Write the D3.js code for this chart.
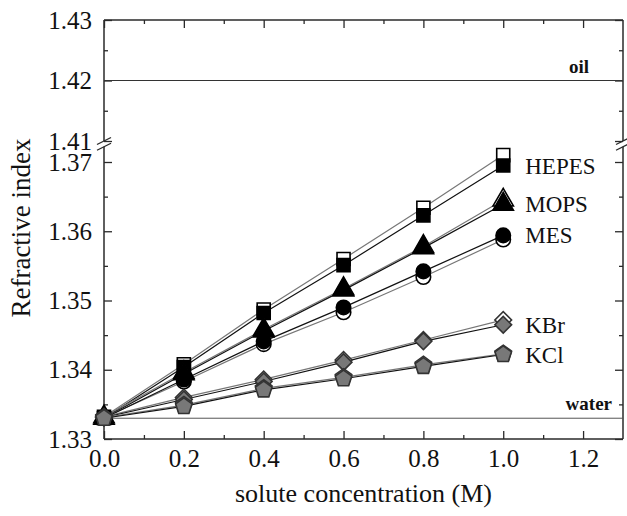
<!DOCTYPE html>
<html>
<head>
<meta charset="utf-8">
<script src="https://cdn.jsdelivr.net/npm/d3@7/dist/d3.min.js"></script>
<style>
  body { margin: 0; background: #fff; }
  svg text { font-family: "Liberation Serif", "Times New Roman", serif; fill: #111; }
</style>
</head>
<body>
<div id="chart"></div>
<script>
// concentrations (M)
var conc = [0, 0.2, 0.4, 0.6, 0.8, 1.0];

// refractive index, open and filled symbols for each solute
var hepesOpen   = [1.3332, 1.3408, 1.3487, 1.3560, 1.3634, 1.3710];
var hepesFilled = [1.3330, 1.3404, 1.3482, 1.3551, 1.3623, 1.3695];
var mopsOpen    = [1.3332, 1.3396, 1.3458, 1.3517, 1.3578, 1.3645];
var mopsFilled  = [1.3330, 1.3394, 1.3456, 1.3515, 1.3576, 1.3639];
var mesOpen     = [1.3331, 1.3383, 1.3437, 1.3483, 1.3534, 1.3588];
var mesFilled   = [1.3330, 1.3386, 1.3441, 1.3490, 1.3542, 1.3594];
var kbrOpen     = [1.3332, 1.3360, 1.3386, 1.3414, 1.3443, 1.3472];
var kbrFilled   = [1.3331, 1.3357, 1.3383, 1.3411, 1.3441, 1.3465];
var kclOpen     = [1.3331, 1.3349, 1.3373, 1.3389, 1.3407, 1.3423];
var kclFilled   = [1.3330, 1.3347, 1.3371, 1.3387, 1.3405, 1.3422];

var solutes = ['HEPES', 'MOPS', 'MES', 'KBr', 'KCl'];

// reference lines
var oilIndex = 1.42;
var waterIndex = 1.333;

// ticks
var xTicks = [0, 0.2, 0.4, 0.6, 0.8, 1.0, 1.2];
var xMinor = [0.1, 0.3, 0.5, 0.7, 0.9, 1.1];
var yTicksHigh = [1.41, 1.42, 1.43];
var yMinorHigh = [1.415, 1.425];
var yTicksLow = [1.33, 1.34, 1.35, 1.36, 1.37];
var yMinorLow = [1.335, 1.345, 1.355, 1.365];

(function() {
  var width = 627, height = 516;
  var margin = {top: 20, right: 4, bottom: 77, left: 104};

  var svg = d3.select('#chart').append('svg')
    .attr('width', width)
    .attr('height', height);

  var x = d3.scaleLinear().domain([0, 1.3]).range([margin.left, width - margin.right]);
  // broken y axis: two linear pieces
  var yHigh = d3.scaleLinear().domain([1.41, 1.43]).range([141, margin.top]);
  var yLow = d3.scaleLinear().domain([1.33, 1.37]).range([height - margin.bottom, 162]);
  var lowTop = 1.3722;

  var x0 = x.range()[0], x1 = x.range()[1];
  var yb = yLow(1.33), yt = yHigh(1.43);

  var axisColor = '#2a2a2a';

  // frame
  var frame = svg.append('g').attr('stroke', axisColor).attr('stroke-width', 1.5).attr('fill', 'none');
  frame.append('line').attr('x1', x0).attr('x2', x1).attr('y1', yb).attr('y2', yb);
  frame.append('line').attr('x1', x0).attr('x2', x1).attr('y1', yt).attr('y2', yt);
  [x0, x1].forEach(function(xx) {
    frame.append('line').attr('x1', xx).attr('x2', xx).attr('y1', yt).attr('y2', yHigh(1.41));
    frame.append('line').attr('x1', xx).attr('x2', xx).attr('y1', yLow(lowTop)).attr('y2', yb);
    // break marks
    [yHigh(1.41), yLow(lowTop)].forEach(function(yy) {
      frame.append('line')
        .attr('x1', xx - 7).attr('y1', yy + 3.5)
        .attr('x2', xx + 7).attr('y2', yy - 3.5)
        .attr('stroke-width', 1.3);
    });
  });

  function styleAxis(g) {
    g.select('.domain').remove();
    g.selectAll('line').attr('stroke', axisColor).attr('stroke-width', 1.3);
    g.selectAll('text').attr('font-size', 25).attr('fill', '#111')
      .style('font-family', '"Liberation Serif", "Times New Roman", serif');
  }

  // bottom / top
  svg.append('g').attr('transform', 'translate(0,' + yb + ')')
    .call(d3.axisBottom(x).tickValues(xTicks).tickFormat(d3.format('.1f')).tickSize(-8).tickPadding(10))
    .call(styleAxis);
  svg.append('g').attr('transform', 'translate(0,' + yb + ')')
    .call(d3.axisBottom(x).tickValues(xMinor).tickFormat('').tickSize(-4))
    .call(styleAxis);
  svg.append('g').attr('transform', 'translate(0,' + yt + ')')
    .call(d3.axisTop(x).tickValues(xTicks).tickFormat('').tickSize(-8))
    .call(styleAxis);
  svg.append('g').attr('transform', 'translate(0,' + yt + ')')
    .call(d3.axisTop(x).tickValues(xMinor).tickFormat('').tickSize(-4))
    .call(styleAxis);

  // left / right, both pieces
  [[yHigh, yTicksHigh, yMinorHigh], [yLow, yTicksLow, yMinorLow]].forEach(function(p) {
    svg.append('g').attr('transform', 'translate(' + x0 + ',0)')
      .call(d3.axisLeft(p[0]).tickValues(p[1]).tickFormat(d3.format('.2f')).tickSize(-8).tickPadding(12))
      .call(styleAxis);
    svg.append('g').attr('transform', 'translate(' + x0 + ',0)')
      .call(d3.axisLeft(p[0]).tickValues(p[2]).tickFormat('').tickSize(-4))
      .call(styleAxis);
    svg.append('g').attr('transform', 'translate(' + x1 + ',0)')
      .call(d3.axisRight(p[0]).tickValues(p[1]).tickFormat('').tickSize(-8))
      .call(styleAxis);
    svg.append('g').attr('transform', 'translate(' + x1 + ',0)')
      .call(d3.axisRight(p[0]).tickValues(p[2]).tickFormat('').tickSize(-4))
      .call(styleAxis);
  });

  // oil and water lines
  svg.append('line').attr('x1', x0).attr('x2', x1)
    .attr('y1', yHigh(oilIndex)).attr('y2', yHigh(oilIndex))
    .attr('stroke', '#333').attr('stroke-width', 1);
  svg.append('line').attr('x1', x0).attr('x2', x1)
    .attr('y1', yLow(waterIndex)).attr('y2', yLow(waterIndex))
    .attr('stroke', '#555').attr('stroke-width', 1);
  svg.append('text').attr('x', x(1.19)).attr('y', yHigh(oilIndex) - 8)
    .attr('text-anchor', 'middle').attr('font-size', 19).attr('font-weight', 'bold').text('oil');
  svg.append('text').attr('x', x1 - 11).attr('y', yLow(waterIndex) - 8)
    .attr('text-anchor', 'end').attr('font-size', 19).attr('font-weight', 'bold').text('water');

  // custom pentagon symbol
  var symbolPentagon = {
    draw: function(context, size) {
      var r = Math.sqrt(size / 2.378);
      for (var i = 0; i < 5; i++) {
        var a = -Math.PI / 2 + i * 2 * Math.PI / 5;
        if (i === 0) context.moveTo(r * Math.cos(a), r * Math.sin(a));
        else context.lineTo(r * Math.cos(a), r * Math.sin(a));
      }
      context.closePath();
    }
  };

  var series = [
    {name: 'HEPES', vals: hepesOpen,   filled: false, sym: d3.symbolSquare, size: 170, rot: 0},
    {name: 'HEPES', vals: hepesFilled, filled: true,  sym: d3.symbolSquare, size: 170, rot: 0},
    {name: 'MOPS',  vals: mopsOpen,    filled: false, sym: d3.symbolTriangle, size: 180, rot: 0},
    {name: 'MOPS',  vals: mopsFilled,  filled: true,  sym: d3.symbolTriangle, size: 180, rot: 0},
    {name: 'MES',   vals: mesOpen,     filled: false, sym: d3.symbolCircle, size: 165, rot: 0},
    {name: 'MES',   vals: mesFilled,   filled: true,  sym: d3.symbolCircle, size: 165, rot: 0},
    {name: 'KBr',   vals: kbrOpen,     filled: false, sym: d3.symbolSquare, size: 140, rot: 45, gray: true},
    {name: 'KBr',   vals: kbrFilled,   filled: true,  sym: d3.symbolSquare, size: 140, rot: 45, gray: true},
    {name: 'KCl',   vals: kclOpen,     filled: false, sym: symbolPentagon, size: 180, rot: 0, gray: true},
    {name: 'KCl',   vals: kclFilled,   filled: true,  sym: symbolPentagon, size: 180, rot: 0, gray: true}
  ];

  var line = d3.line()
    .x(function(d, i) { return x(conc[i]); })
    .y(function(d) { return yLow(d); });

  // lines first
  series.forEach(function(s) {
    svg.append('path')
      .attr('d', line(s.vals))
      .attr('fill', 'none')
      .attr('stroke', s.filled ? '#111' : '#777')
      .attr('stroke-width', 1.2);
  });

  // markers: open first, filled on top
  series.forEach(function(s) {
    var fill = s.filled ? (s.gray ? '#787878' : '#000') : '#fff';
    var stroke = s.gray ? '#333' : '#000';
    svg.append('g').selectAll('path')
      .data(s.vals)
      .enter()
      .append('path')
      .attr('d', d3.symbol().type(s.sym).size(s.size))
      .attr('transform', function(d, i) {
        return 'translate(' + x(conc[i]) + ',' + yLow(d) + ') rotate(' + s.rot + ')';
      })
      .attr('fill', fill)
      .attr('stroke', stroke)
      .attr('stroke-width', 1.6);
  });

  // solute labels next to last filled point
  series.filter(function(s) { return s.filled; }).forEach(function(s) {
    var last = s.vals[s.vals.length - 1];
    svg.append('text')
      .attr('x', x(conc[conc.length - 1]) + 22)
      .attr('y', yLow(last))
      .attr('dy', '0.35em')
      .attr('font-size', 23)
      .text(s.name);
  });

  // axis titles
  svg.append('text')
    .attr('x', (x0 + x1) / 2)
    .attr('y', 502)
    .attr('text-anchor', 'middle')
    .attr('font-size', 26)
    .text('solute concentration (M)');
  svg.append('text')
    .attr('transform', 'translate(30,' + 228 + ') rotate(-90)')
    .attr('text-anchor', 'middle')
    .attr('font-size', 27)
    .text('Refractive index');
})();
</script>
</body>
</html>
